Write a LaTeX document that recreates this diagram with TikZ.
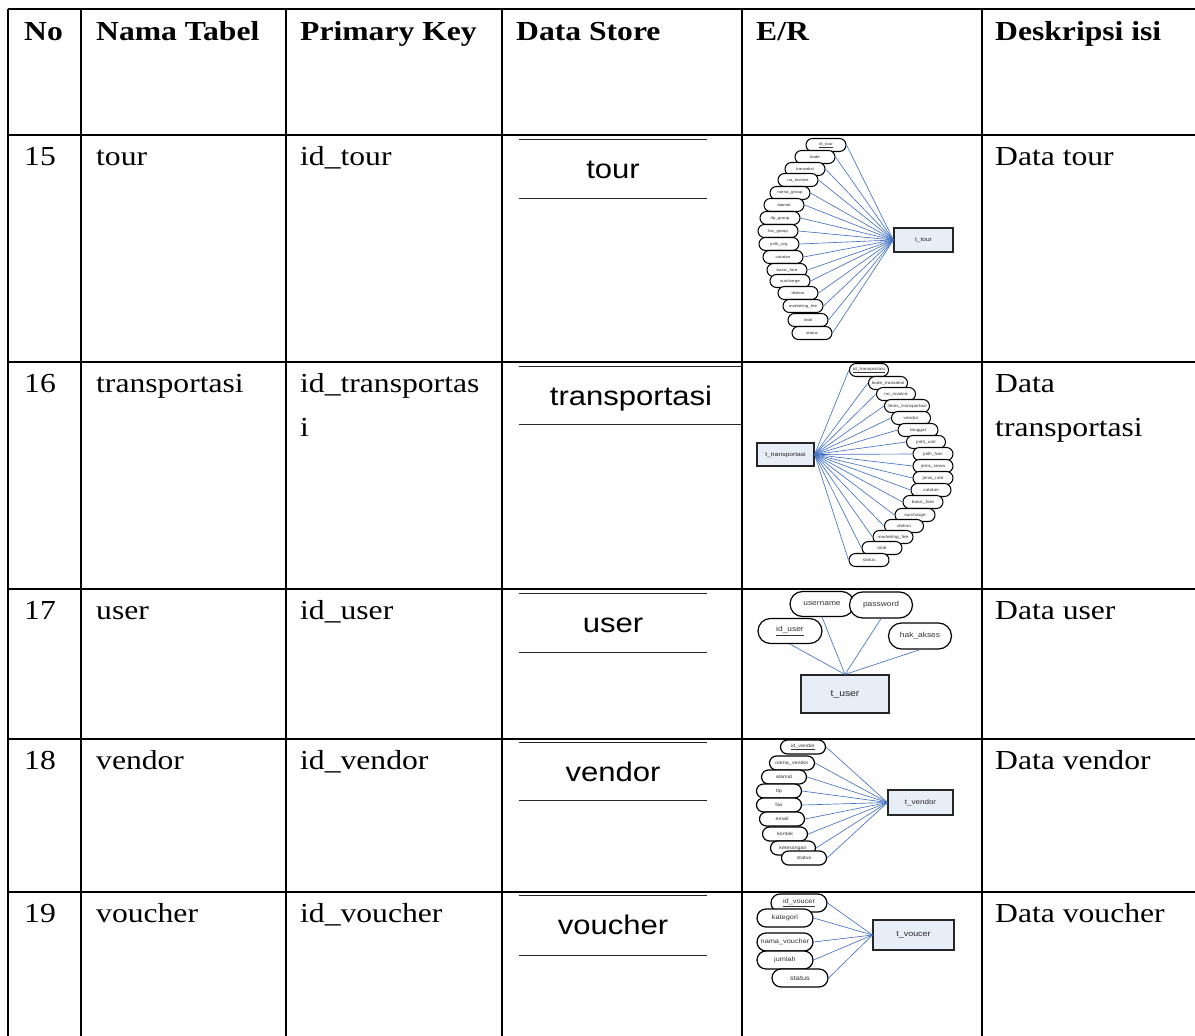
\documentclass[tikz,border=0pt]{standalone}
\usepackage{fontspec}
\setmainfont[FakeStretch=1.15]{Liberation Serif}
\newfontfamily\arial[FakeStretch=1.15]{Liberation Sans}
\usetikzlibrary{shapes.misc}
\definecolor{relblue}{RGB}{68,114,196}
\definecolor{entfill}{RGB}{231,238,248}
\begin{document}
\begin{tikzpicture}[x=1pt,y=-1pt,
 tline/.style={line width=2.3pt,black},
 hd/.style={font=\fontsize{27.5}{30}\selectfont\bfseries, anchor=base west, inner sep=0pt},
 cell/.style={font=\fontsize{27.5}{30}\selectfont, anchor=base west, inner sep=0pt},
 ds/.style={font=\arial\fontsize{27}{30}\selectfont, anchor=base, inner sep=0pt},
 dsline/.style={line width=1pt, black!85},
 attr/.style={rounded rectangle, draw=black, fill=white, line width=1.2pt, inner sep=0pt, text=black!80},
 ent/.style={rectangle, draw=black!85, fill=entfill, line width=1.1pt, inner sep=0pt, text=black!85},
 rel/.style={relblue, line width=0.65pt}]
\useasboundingbox (0,0) rectangle (1195,1036);
% table grid
\draw[tline] (8,9) -- (1195,9);
\foreach \yy in {135,362,589,739,892} \draw[tline] (8,\yy) -- (1195,\yy);
\foreach \xx in {8,81,286,502,742,982} \draw[tline] (\xx,9) -- (\xx,1036);
% header
\node[hd] (hno) at (24,40) {No};
\node[hd] (hnama) at (96,40) {Nama Tabel};
\node[hd] (hpk) at (300,40) {Primary Key};
\node[hd] (hds) at (516,40) {Data Store};
\node[hd] (her) at (756,40) {E/R};
\node[hd] (hdesc) at (995,40) {Deskripsi isi};
% row 15
\node[cell] (n15) at (24,165) {15};
\node[cell] (t15) at (96,165) {tour};
\node[cell] (p15) at (300,165) {id\_tour};
\node[cell] (d15) at (995,165) {Data tour};
% row 16
\node[cell] (n16) at (24,392) {16};
\node[cell] (t16) at (96,392) {transportasi};
\node[cell] (p16) at (300,392) {id\_transportas};
\node[cell] (p16b) at (300,436) {i};
\node[cell] (d16) at (995,392) {Data};
\node[cell] (d16b) at (995,436) {transportasi};
% row 17
\node[cell] (n17) at (24,619) {17};
\node[cell] (t17) at (96,619) {user};
\node[cell] (p17) at (300,619) {id\_user};
\node[cell] (d17) at (995,619) {Data user};
% row 18
\node[cell] (n18) at (24,769) {18};
\node[cell] (t18) at (96,769) {vendor};
\node[cell] (p18) at (300,769) {id\_vendor};
\node[cell] (d18) at (995,769) {Data vendor};
% row 19
\node[cell] (n19) at (24,922) {19};
\node[cell] (t19) at (96,922) {voucher};
\node[cell] (p19) at (300,922) {id\_voucher};
\node[cell] (d19) at (995,922) {Data voucher};
% data stores
\node[ds] (s15) at (613,178) {tour};
\draw[dsline] (519,139) -- (707,139) (519,198) -- (707,198);
\node[ds] (s16) at (631,405) {transportasi};
\draw[dsline] (519,366) -- (742,366) (519,424) -- (742,424);
\node[ds] (s17) at (613,632) {user};
\draw[dsline] (519,593) -- (707,593) (519,652) -- (707,652);
\node[ds] (s18) at (613,781) {vendor};
\draw[dsline] (519,742) -- (707,742) (519,800) -- (707,800);
\node[ds] (s19) at (613,934) {voucher};
\draw[dsline] (519,895) -- (707,895) (519,955) -- (707,955);
% E/R row 15
\node[ent, minimum width=59pt, minimum height=24pt, font=\arial\fontsize{5.7}{6}\selectfont] (e15) at (923.5,240) {t\_tour};
\foreach \x/\y/\t [count=\i] in {826/145/\underline{id\_tour},815/157/kode,805/169/transaksi,798/180/no\_invoice,790/193/nama\_group,784/205/alamat,780/218/tlp\_group,778/231/fax\_group,779/244/jmlh\_org,783/257/catatan,787/270/basic\_fare,790/281/surcharge,798/293/diskon,803/306/marketing\_fee,808/320/total,812/333/status}
  \node[attr, line width=1.05pt, minimum width=40pt, minimum height=13pt, font=\arial\fontsize{3.9}{4}\selectfont] (a15n\i) at (\x,\y) {\t};
\foreach \i in {1,...,16} \draw[rel] (a15n\i.east) -- (e15.west);
% E/R row 16
\node[ent, minimum width=57pt, minimum height=23pt, font=\arial\fontsize{5.8}{6}\selectfont] (e16) at (785.5,454.5) {t\_transportasi};
\foreach \x/\y/\w/\t [count=\i] in {869/370/39/\underline{id\_transportasi},888/383/39/kode\_transaksi,896/394/39/no\_invoice,907/406/45/Jenis\_transportasi,911/418/39/vendor,918/430/40/tanggal,926/442/39/jmlh\_unit,933/454/40/jmlh\_hari,933/466/40/jenis\_sewa,933/478/40/jenis\_rute,931/490/40/catatan,923/502/40/basic\_fare,915/515/40/surcharge,904/526/39/diskon,893/537/40/marketing\_fee,882/548/40/total,869/560/40/status}
  \node[attr, line width=1.05pt, minimum width=\w pt, minimum height=13pt, font=\arial\fontsize{4.2}{4.5}\selectfont] (a16n\i) at (\x,\y) {\t};
\foreach \i in {1,...,17} \draw[rel] (e16.east) -- (a16n\i.west);
% E/R row 17
\node[ent, minimum width=88pt, minimum height=38pt, font=\arial\fontsize{9}{10}\selectfont] (e17) at (845,694) {t\_user};
\node[attr, minimum width=64pt, minimum height=25pt, font=\arial\fontsize{7.3}{8}\selectfont] (a17n1) at (822,604) {username};
\node[attr, minimum width=63pt, minimum height=26pt, font=\arial\fontsize{7.3}{8}\selectfont] (a17n2) at (881,605) {password};
\node[attr, minimum width=64pt, minimum height=25pt, font=\arial\fontsize{7.3}{8}\selectfont] (a17n3) at (790,631) {\underline{id\_user}};
\node[attr, minimum width=63pt, minimum height=26pt, font=\arial\fontsize{7.3}{8}\selectfont] (a17n4) at (920,636) {hak\_akses};
\foreach \i in {1,...,4} \draw[rel] (a17n\i.south) -- (e17.north);
% E/R row 18
\node[ent, minimum width=65pt, minimum height=25pt, font=\arial\fontsize{7}{8}\selectfont] (e18) at (920.5,802.5) {t\_vendor};
\foreach \x/\y/\t [count=\i] in {803/747/\underline{id\_vendor},792/763/nama\_vendor,784/777/alamat,779/791/tlp,779/805/fax,782/819/email,785/834/kontak,793/848/keterangan,804/858/status}
  \node[attr, minimum width=45pt, minimum height=14pt, font=\arial\fontsize{4.7}{5}\selectfont] (a18n\i) at (\x,\y) {\t};
\foreach \i in {1,...,9} \draw[rel] (a18n\i.east) -- (e18.west);
% E/R row 19
\node[ent, minimum width=81pt, minimum height=30pt, font=\arial\fontsize{7.8}{8}\selectfont] (e19) at (913.5,935) {t\_voucer};
\foreach \x/\y/\t [count=\i] in {799/903/\underline{id\_voucer},785/918/kategori,785/942/nama\_voucher,785/960/jumlah,800/978/status}
  \node[attr, minimum width=56pt, minimum height=18pt, font=\arial\fontsize{6.4}{7}\selectfont] (a19n\i) at (\x,\y) {\t};
\foreach \i in {1,...,5} \draw[rel] (a19n\i.east) -- (e19.west);
\end{tikzpicture}
\end{document}
